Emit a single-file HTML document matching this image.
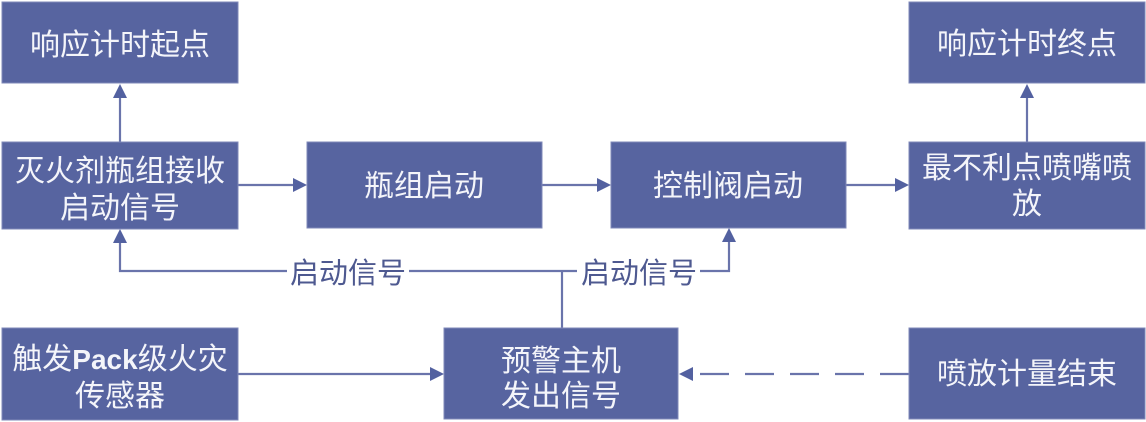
<!DOCTYPE html>
<html>
<head>
<meta charset="utf-8">
<style>
html,body{margin:0;padding:0;background:#fff;}
body{width:1146px;height:422px;overflow:hidden;}
svg{display:block;}
.box{fill:#5764a0;stroke:#7f88b8;stroke-width:1;}
.t{font-family:"Liberation Sans","Noto Sans CJK SC",sans-serif;font-size:30px;fill:#f4f5fa;text-anchor:middle;}
.lbl{font-family:"Liberation Sans","Noto Sans CJK SC",sans-serif;font-size:29px;fill:#4e5990;text-anchor:middle;}
.ln{stroke:#6a74ab;stroke-width:2.2;fill:none;}
.ah{fill:#5361a0;}
.en{font-family:"Liberation Sans",Arial,sans-serif;font-weight:bold;font-size:28px;}
</style>
</head>
<body>
<svg width="1146" height="422" viewBox="0 0 1146 422" xmlns="http://www.w3.org/2000/svg">
<!-- connectors -->
<line class="ln" x1="120" y1="142" x2="120" y2="96"/>
<polygon class="ah" points="120,84 113,98 127,98"/>

<line class="ln" x1="238" y1="185" x2="295" y2="185"/>
<polygon class="ah" points="307,185 293,178 293,192"/>

<line class="ln" x1="542" y1="185" x2="599" y2="185"/>
<polygon class="ah" points="611,185 597,178 597,192"/>

<line class="ln" x1="846" y1="185" x2="897" y2="185"/>
<polygon class="ah" points="909,185 895,178 895,192"/>

<line class="ln" x1="1027" y1="142" x2="1027" y2="96"/>
<polygon class="ah" points="1027,84 1020,98 1034,98"/>

<!-- signal lines -->
<polyline class="ln" points="120,241 120,271 287,271"/>
<polygon class="ah" points="120,229 113,243 127,243"/>
<line class="ln" x1="409" y1="271" x2="577" y2="271"/>
<line class="ln" x1="562" y1="271" x2="562" y2="328"/>
<polyline class="ln" points="700,271 729,271 729,240"/>
<polygon class="ah" points="729,228 722,242 736,242"/>

<text class="lbl" x="348" y="283">启动信号</text>
<text class="lbl" x="639" y="283">启动信号</text>

<line class="ln" x1="238" y1="374" x2="432" y2="374"/>
<polygon class="ah" points="444,374 430,367 430,381"/>

<line class="ln" x1="909" y1="374" x2="693" y2="374" stroke-dasharray="29,16"/>
<polygon class="ah" points="679,374 693,367 693,381"/>

<!-- boxes -->
<rect class="box" x="2" y="2" width="236" height="81"/>
<text class="t" x="120" y="55">响应计时起点</text>

<rect class="box" x="909" y="2" width="236" height="81"/>
<text class="t" x="1027" y="54">响应计时终点</text>

<rect class="box" x="2" y="142" width="236" height="87"/>
<text class="t" x="120" y="181">灭火剂瓶组接收</text>
<text class="t" x="120" y="218">启动信号</text>

<rect class="box" x="307" y="142" width="235" height="86"/>
<text class="t" x="424" y="196">瓶组启动</text>

<rect class="box" x="611" y="142" width="235" height="86"/>
<text class="t" x="728" y="196">控制阀启动</text>

<rect class="box" x="909" y="142" width="236" height="87"/>
<text class="t" x="1027" y="178">最不利点喷嘴喷</text>
<text class="t" x="1027" y="214">放</text>

<rect class="box" x="2" y="328" width="236" height="92"/>
<text class="t" x="120" y="369">触发<tspan class="en">Pack</tspan>级火灾</text>
<text class="t" x="120" y="406">传感器</text>

<rect class="box" x="444" y="328" width="234" height="91"/>
<text class="t" x="561" y="371">预警主机</text>
<text class="t" x="561" y="406">发出信号</text>

<rect class="box" x="909" y="328" width="236" height="91"/>
<text class="t" x="1027" y="384">喷放计量结束</text>
</svg>
</body>
</html>
